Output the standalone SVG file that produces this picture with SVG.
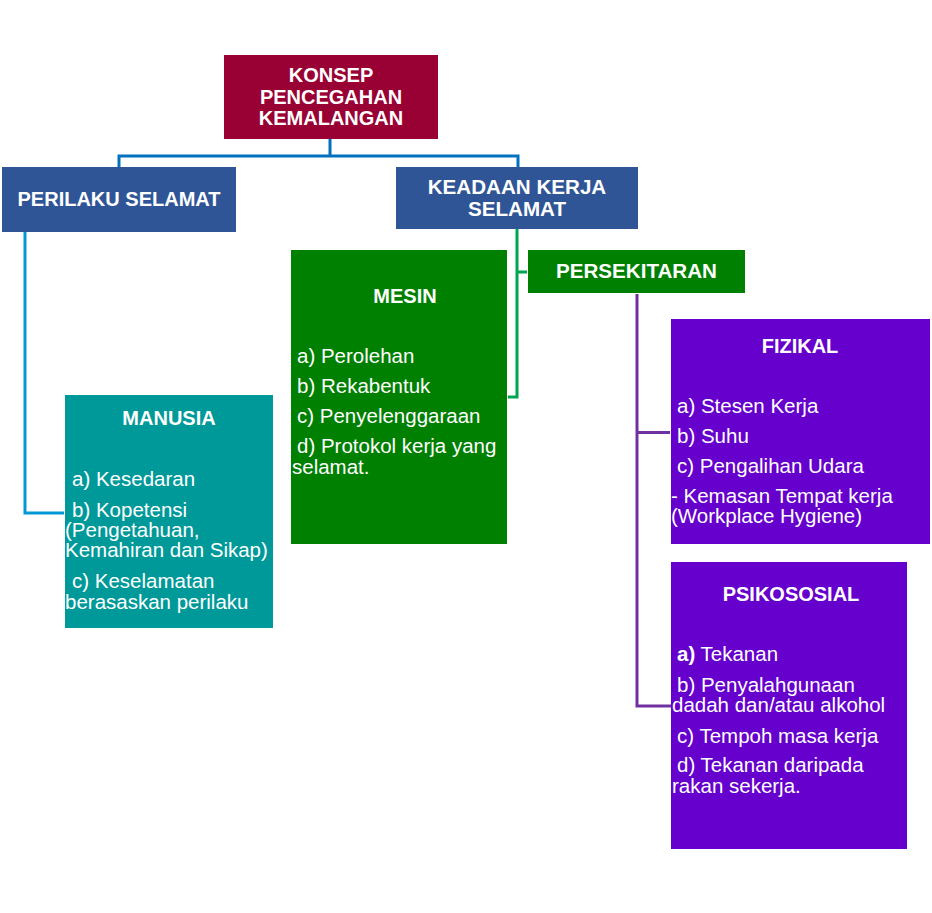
<svg xmlns="http://www.w3.org/2000/svg" width="932" height="913" viewBox="0 0 932 913">
<style>
text{font-family:"Liberation Sans",Arial,sans-serif;fill:#fff}
.t{font-weight:bold;font-size:20px;text-anchor:middle}
.w{font-size:20.6px}
.b{font-size:20.5px}
.c{fill:none;stroke-width:3}
</style>
<rect width="932" height="913" fill="#fff"/>
<g id="connectors">
<path class="c" stroke="#0070C0" d="M330,139V156M119,167V156H518V167"/>
<path class="c" stroke="#0099D6" d="M25,232V513H64"/>
<path class="c" stroke="#00A550" d="M517,229V397H508M517,272H527"/>
<path class="c" stroke="#7030A0" d="M637,294V706H671M637,432.5H670"/>
</g>
<g id="konsep">
<rect x="224" y="55" width="214" height="84" fill="#990033"/>
<text class="t" x="331" y="82">KONSEP</text>
<text class="t" x="331" y="104">PENCEGAHAN</text>
<text class="t" x="331" y="125">KEMALANGAN</text>
</g>
<g id="perilaku">
<rect x="2" y="167" width="234" height="65" fill="#2F5597"/>
<text class="t" x="119" y="206" font-size="21">PERILAKU SELAMAT</text>
</g>
<g id="keadaan">
<rect x="396" y="167" width="242" height="62" fill="#2F5597"/>
<text class="t w" x="517" y="194">KEADAAN KERJA</text>
<text class="t w" x="517" y="216">SELAMAT</text>
</g>
<g id="mesin">
<rect x="291" y="250" width="216" height="294" fill="#008000"/>
<text class="t" x="405" y="303">MESIN</text>
<text class="b" x="297" y="363">a) Perolehan</text>
<text class="b" x="297" y="393">b) Rekabentuk</text>
<text class="b" x="297" y="423">c) Penyelenggaraan</text>
<text class="b" x="297" y="453">d) Protokol kerja yang</text>
<text class="b" x="292" y="474">selamat.</text>
</g>
<g id="persekitaran">
<rect x="528" y="250" width="217" height="43" fill="#008000"/>
<text class="t w" x="636.5" y="278">PERSEKITARAN</text>
</g>
<g id="manusia">
<rect x="65" y="395" width="208" height="233" fill="#009999"/>
<text class="t" x="169" y="425">MANUSIA</text>
<text class="b" x="72" y="486">a) Kesedaran</text>
<text class="b" x="72" y="517">b) Kopetensi</text>
<text class="b" x="65" y="537">(Pengetahuan,</text>
<text class="b" x="65" y="557">Kemahiran dan Sikap)</text>
<text class="b" x="72" y="588">c) Keselamatan</text>
<text class="b" x="65" y="609">berasaskan perilaku</text>
</g>
<g id="fizikal">
<rect x="671" y="319" width="259" height="225" fill="#6600CC"/>
<text class="t" x="800" y="353">FIZIKAL</text>
<text class="b" x="677" y="413">a) Stesen Kerja</text>
<text class="b" x="677" y="443">b) Suhu</text>
<text class="b" x="677" y="473">c) Pengalihan Udara</text>
<text class="b" x="671" y="503">- Kemasan Tempat kerja</text>
<text class="b" x="671" y="523">(Workplace Hygiene)</text>
</g>
<g id="psikososial">
<rect x="671" y="562" width="236" height="287" fill="#6600CC"/>
<text class="t" x="791" y="601">PSIKOSOSIAL</text>
<text class="b" x="677" y="661"><tspan font-weight="bold">a)</tspan> Tekanan</text>
<text class="b" x="677" y="692">b) Penyalahgunaan</text>
<text class="b" x="672" y="712">dadah dan/atau alkohol</text>
<text class="b" x="677" y="743">c) Tempoh masa kerja</text>
<text class="b" x="677" y="772">d) Tekanan daripada</text>
<text class="b" x="672" y="793">rakan sekerja.</text>
</g>
</svg>
